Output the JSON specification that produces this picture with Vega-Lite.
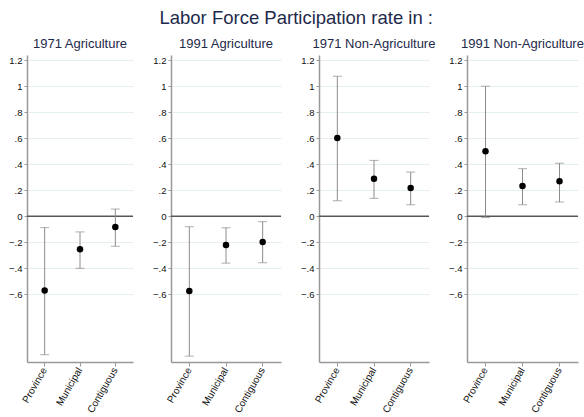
{
  "$schema": "https://vega.github.io/schema/vega-lite/v6.json",
  "padding": {"left": 8, "top": 8, "right": 2, "bottom": 0},
  "bounds": "flush",
  "title": {"text": "Labor Force Participation rate in :", "fontSize": 18.5, "fontWeight": "normal", "color": "#1e2a4a", "anchor": "middle", "offset": 11, "font": "Liberation Sans"},
  "data": {"values": [
    {"panel": "1971 Agriculture", "cat": "Province", "est": -0.571, "lo": -1.064, "hi": -0.087},
    {"panel": "1971 Agriculture", "cat": "Municipal", "est": -0.254, "lo": -0.40, "hi": -0.12},
    {"panel": "1971 Agriculture", "cat": "Contiguous", "est": -0.082, "lo": -0.23, "hi": 0.056},
    {"panel": "1991 Agriculture", "cat": "Province", "est": -0.574, "lo": -1.075, "hi": -0.08},
    {"panel": "1991 Agriculture", "cat": "Municipal", "est": -0.22, "lo": -0.36, "hi": -0.088},
    {"panel": "1991 Agriculture", "cat": "Contiguous", "est": -0.198, "lo": -0.357, "hi": -0.041},
    {"panel": "1971 Non-Agriculture", "cat": "Province", "est": 0.602, "lo": 0.12, "hi": 1.077},
    {"panel": "1971 Non-Agriculture", "cat": "Municipal", "est": 0.289, "lo": 0.138, "hi": 0.43},
    {"panel": "1971 Non-Agriculture", "cat": "Contiguous", "est": 0.218, "lo": 0.089, "hi": 0.34},
    {"panel": "1991 Non-Agriculture", "cat": "Province", "est": 0.5, "lo": -0.01, "hi": 1.0},
    {"panel": "1991 Non-Agriculture", "cat": "Municipal", "est": 0.233, "lo": 0.089, "hi": 0.366},
    {"panel": "1991 Non-Agriculture", "cat": "Contiguous", "est": 0.269, "lo": 0.11, "hi": 0.408}
  ]},
  "spacing": 38,
  "hconcat": [
    {
      "width": 106, "height": 307,
      "title": {"text": "1971 Agriculture"},
      "transform": [{"filter": "datum.panel === '1971 Agriculture'"}],
      "encoding": {"x": {"field": "cat", "type": "nominal", "sort": ["Province", "Municipal", "Contiguous"], "title": null}},
      "layer": [
        {"mark": {"type": "rule", "color": "#555555", "strokeWidth": 1}, "encoding": {"x": null, "y": {"datum": 0, "type": "quantitative", "scale": {"domain": [-1.12, 1.24], "nice": false, "zero": false}, "title": null}}},
        {"mark": {"type": "errorbar", "ticks": {"size": 9}, "color": "#8c8c8c"}, "encoding": {"y": {"field": "lo", "type": "quantitative", "title": null}, "y2": {"field": "hi"}}},
        {"mark": {"type": "circle", "size": 42, "color": "black", "opacity": 1}, "encoding": {"y": {"field": "est", "type": "quantitative", "title": null}}}
      ]
    },
    {
      "width": 110, "height": 307,
      "title": {"text": "1991 Agriculture"},
      "transform": [{"filter": "datum.panel === '1991 Agriculture'"}],
      "encoding": {"x": {"field": "cat", "type": "nominal", "sort": ["Province", "Municipal", "Contiguous"], "title": null}},
      "layer": [
        {"mark": {"type": "rule", "color": "#555555", "strokeWidth": 1}, "encoding": {"x": null, "y": {"datum": 0, "type": "quantitative", "scale": {"domain": [-1.12, 1.24], "nice": false, "zero": false}, "title": null}}},
        {"mark": {"type": "errorbar", "ticks": {"size": 9}, "color": "#8c8c8c"}, "encoding": {"y": {"field": "lo", "type": "quantitative", "title": null}, "y2": {"field": "hi"}}},
        {"mark": {"type": "circle", "size": 42, "color": "black", "opacity": 1}, "encoding": {"y": {"field": "est", "type": "quantitative", "title": null}}}
      ]
    },
    {
      "width": 110, "height": 307,
      "title": {"text": "1971 Non-Agriculture"},
      "transform": [{"filter": "datum.panel === '1971 Non-Agriculture'"}],
      "encoding": {"x": {"field": "cat", "type": "nominal", "sort": ["Province", "Municipal", "Contiguous"], "title": null}},
      "layer": [
        {"mark": {"type": "rule", "color": "#555555", "strokeWidth": 1}, "encoding": {"x": null, "y": {"datum": 0, "type": "quantitative", "scale": {"domain": [-1.12, 1.24], "nice": false, "zero": false}, "title": null}}},
        {"mark": {"type": "errorbar", "ticks": {"size": 9}, "color": "#8c8c8c"}, "encoding": {"y": {"field": "lo", "type": "quantitative", "title": null}, "y2": {"field": "hi"}}},
        {"mark": {"type": "circle", "size": 42, "color": "black", "opacity": 1}, "encoding": {"y": {"field": "est", "type": "quantitative", "title": null}}}
      ]
    },
    {
      "width": 111, "height": 307,
      "title": {"text": "1991 Non-Agriculture"},
      "transform": [{"filter": "datum.panel === '1991 Non-Agriculture'"}],
      "encoding": {"x": {"field": "cat", "type": "nominal", "sort": ["Province", "Municipal", "Contiguous"], "title": null}},
      "layer": [
        {"mark": {"type": "rule", "color": "#555555", "strokeWidth": 1}, "encoding": {"x": null, "y": {"datum": 0, "type": "quantitative", "scale": {"domain": [-1.12, 1.24], "nice": false, "zero": false}, "title": null}}},
        {"mark": {"type": "errorbar", "ticks": {"size": 9}, "color": "#8c8c8c"}, "encoding": {"y": {"field": "lo", "type": "quantitative", "title": null}, "y2": {"field": "hi"}}},
        {"mark": {"type": "circle", "size": 42, "color": "black", "opacity": 1}, "encoding": {"y": {"field": "est", "type": "quantitative", "title": null}}}
      ]
    }
  ],
  "config": {
    "font": "Liberation Sans",
    "view": {"stroke": null},
    "title": {"fontSize": 13, "fontWeight": "normal", "color": "#1e2a4a", "anchor": "middle", "offset": 4},
    "scale": {"pointPadding": 0.22},
    "axisX": {"title": null, "labelAngle": -60, "labelFontSize": 10, "labelColor": "#111111", "tickSize": 4, "tickColor": "#999999", "domainColor": "#999999", "domainWidth": 1.5, "grid": false, "labelPadding": 2, "labelOverlap": false, "labelBound": false},
    "axisY": {"title": null, "tickCount": 12, "labelExpr": "datum.value < -0.7 ? '' : replace(format(datum.value, '~g'), '0.', '.')", "labelFontSize": 9.5, "labelColor": "#111111", "tickSize": 3, "tickColor": "#999999", "tickOpacity": {"condition": {"test": "datum.value < -0.7", "value": 0}, "value": 1}, "gridOpacity": {"condition": {"test": "datum.value < -0.7", "value": 0}, "value": 1}, "domainColor": "#999999", "domainWidth": 1.5, "grid": true, "gridColor": "#e6eff0", "gridWidth": 1, "labelPadding": 2, "labelOverlap": false}
  }
}
